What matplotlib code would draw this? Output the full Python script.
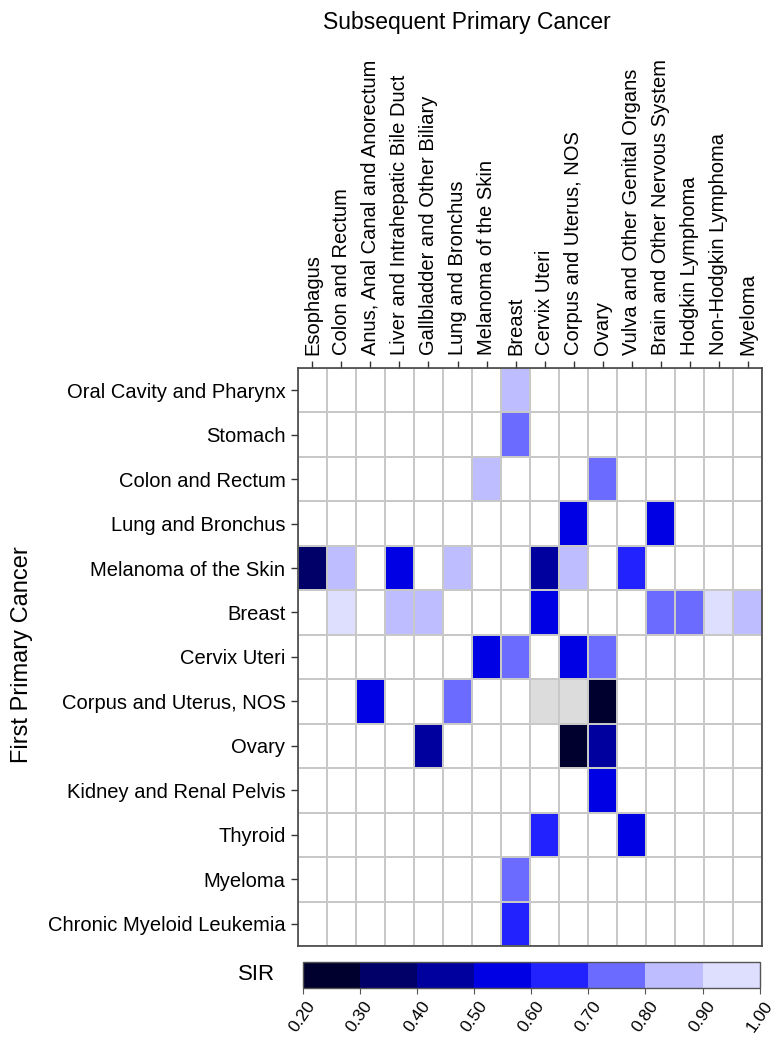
import numpy as np
import matplotlib
matplotlib.use("Agg")
import matplotlib.pyplot as plt
from matplotlib.colors import ListedColormap, BoundaryNorm
from matplotlib.cm import ScalarMappable

plt.rcParams['font.family'] = ['Liberation Sans', 'DejaVu Sans']

first_cancer = ["Oral Cavity and Pharynx", "Stomach", "Colon and Rectum", "Lung and Bronchus",
                "Melanoma of the Skin", "Breast", "Cervix Uteri", "Corpus and Uterus, NOS",
                "Ovary", "Kidney and Renal Pelvis", "Thyroid", "Myeloma",
                "Chronic Myeloid Leukemia"]
subsequent_cancer = ["Esophagus", "Colon and Rectum", "Anus, Anal Canal and Anorectum",
                     "Liver and Intrahepatic Bile Duct", "Gallbladder and Other Biliary",
                     "Lung and Bronchus", "Melanoma of the Skin", "Breast", "Cervix Uteri",
                     "Corpus and Uterus, NOS", "Ovary", "Vulva and Other Genital Organs",
                     "Brain and Other Nervous System", "Hodgkin Lymphoma",
                     "Non-Hodgkin Lymphoma", "Myeloma"]

# significant SIR values: (first cancer, subsequent cancer, SIR)
sir_first = ["Oral Cavity and Pharynx", "Stomach", "Colon and Rectum", "Colon and Rectum",
             "Lung and Bronchus", "Lung and Bronchus",
             "Melanoma of the Skin", "Melanoma of the Skin", "Melanoma of the Skin",
             "Melanoma of the Skin", "Melanoma of the Skin", "Melanoma of the Skin",
             "Melanoma of the Skin",
             "Breast", "Breast", "Breast", "Breast", "Breast", "Breast", "Breast", "Breast",
             "Cervix Uteri", "Cervix Uteri", "Cervix Uteri", "Cervix Uteri",
             "Corpus and Uterus, NOS", "Corpus and Uterus, NOS", "Corpus and Uterus, NOS",
             "Ovary", "Ovary", "Ovary", "Kidney and Renal Pelvis", "Thyroid", "Thyroid",
             "Myeloma", "Chronic Myeloid Leukemia"]
sir_subsequent = ["Breast", "Breast", "Melanoma of the Skin", "Ovary",
                  "Corpus and Uterus, NOS", "Brain and Other Nervous System",
                  "Esophagus", "Colon and Rectum", "Liver and Intrahepatic Bile Duct",
                  "Lung and Bronchus", "Cervix Uteri", "Corpus and Uterus, NOS",
                  "Vulva and Other Genital Organs",
                  "Colon and Rectum", "Liver and Intrahepatic Bile Duct",
                  "Gallbladder and Other Biliary", "Cervix Uteri",
                  "Brain and Other Nervous System", "Hodgkin Lymphoma",
                  "Non-Hodgkin Lymphoma", "Myeloma",
                  "Melanoma of the Skin", "Breast", "Corpus and Uterus, NOS", "Ovary",
                  "Anus, Anal Canal and Anorectum", "Lung and Bronchus", "Ovary",
                  "Gallbladder and Other Biliary", "Corpus and Uterus, NOS", "Ovary",
                  "Ovary", "Cervix Uteri", "Vulva and Other Genital Organs",
                  "Breast", "Breast"]
sir_values = [0.85, 0.75, 0.85, 0.75,
              0.55, 0.55,
              0.35, 0.85, 0.55, 0.85, 0.45, 0.85, 0.65,
              0.95, 0.85, 0.85, 0.55, 0.75, 0.75, 0.95, 0.85,
              0.55, 0.75, 0.55, 0.75,
              0.55, 0.75, 0.25,
              0.45, 0.25, 0.45,
              0.55, 0.65, 0.55,
              0.75, 0.65]

# not applicable cells (grey)
na_first = ["Corpus and Uterus, NOS", "Corpus and Uterus, NOS"]
na_subsequent = ["Cervix Uteri", "Corpus and Uterus, NOS"]

bounds = [0.2, 0.3, 0.4, 0.5, 0.6, 0.7, 0.8, 0.9, 1.0]
bin_colors = ["#00002e", "#000068", "#00009f", "#0000e4", "#2222ff", "#6b6bff",
              "#bdbdff", "#dedeff"]

nr, nc = len(first_cancer), len(subsequent_cancer)
grid = np.full((nr, nc), np.nan)
for f, s, v in zip(sir_first, sir_subsequent, sir_values):
    grid[first_cancer.index(f), subsequent_cancer.index(s)] = v
na = np.zeros((nr, nc), dtype=bool)
for f, s in zip(na_first, na_subsequent):
    na[first_cancer.index(f), subsequent_cancer.index(s)] = True

cmap = ListedColormap(bin_colors)
cmap.set_bad("white")
norm = BoundaryNorm(bounds, cmap.N)

fig = plt.figure(figsize=(7.76, 10.42), dpi=100)
ax = fig.add_axes([0.384, 0.092, 0.598, 0.555])

ax.pcolormesh(np.ma.masked_invalid(grid), cmap=cmap, norm=norm,
              edgecolors="#d2d2d2", linewidth=1.3)
grey = ListedColormap(["#dcdcdc"])
grey.set_bad((0, 0, 0, 0))
ax.pcolormesh(np.ma.masked_where(~na, np.ones((nr, nc))), cmap=grey,
              edgecolors="#c8c8c8", linewidth=1.3)

ax.set_xlim(0, nc)
ax.set_ylim(nr, 0)
ax.set_xticks(np.arange(nc) + 0.5)
ax.set_xticklabels(subsequent_cancer, rotation=90, fontsize=14.5)
ax.xaxis.tick_top()
ax.set_yticks(np.arange(nr) + 0.5)
ax.set_yticklabels(first_cancer, fontsize=14.5)
ax.tick_params(length=5, width=1, color="#333333", pad=4)
for sp in ax.spines.values():
    sp.set_color("#444444")
    sp.set_linewidth(1.2)

fig.text(0.602, 0.978, "Subsequent Primary Cancer", ha="center", va="center", fontsize=16.5)
fig.text(0.028, 1 - 655 / 1042, "First Primary Cancer", rotation=90,
         ha="center", va="center", fontsize=17)

# colorbar
cax = fig.add_axes([0.390, 0.052, 0.589, 0.025])
cb = fig.colorbar(ScalarMappable(norm=norm, cmap=cmap), cax=cax,
                  orientation="horizontal", ticks=bounds)
cb.ax.set_xticklabels([f"{b:.2f}" for b in bounds], rotation=55, ha="center",
                      va="top", fontsize=12.5)
cb.ax.tick_params(length=4.5, color="#555555", pad=3)
cb.outline.set_edgecolor("#555555")
cb.outline.set_linewidth(1.0)
fig.text(0.331, 1 - 975 / 1042, "SIR", ha="center", va="center", fontsize=16)

fig.savefig("out.png", dpi=100)
